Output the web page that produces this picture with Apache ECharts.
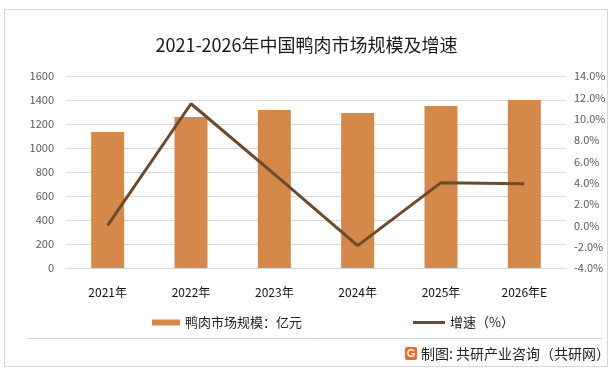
<!DOCTYPE html>
<html><head><meta charset="utf-8">
<script src="https://cdn.jsdelivr.net/npm/echarts@6/dist/echarts.min.js"></script>
<style>html,body{margin:0;padding:0;background:#fff}#c{width:613px;height:372px}</style>
</head><body><div id="c"></div>
<script>
var categories = ['2021年','2022年','2023年','2024年','2025年','2026年E'];
var marketSize = [1133, 1258, 1317, 1292, 1350, 1400];
var growthRate = [0.0, 11.4, 4.8, -1.9, 4.0, 3.9];
var leftTicks = [0, 1600, 200];
var rightTicks = [-4, 14, 2];
var F = '"Noto Sans CJK SC","Microsoft YaHei",sans-serif';
var chart = echarts.init(document.getElementById('c'), null, {renderer:'canvas'});
chart.setOption({
  animation:false,
  backgroundColor:'#fff',
  title:{text:'2021-2026年中国鸭肉市场规模及增速',left:'center',top:31,
    textStyle:{fontFamily:F,fontSize:18,fontWeight:'normal',color:'#1a1a1a'}},
  grid:{left:66,right:47,top:76,bottom:104},
  legend:[
    {top:311,left:147,itemWidth:28,itemHeight:6,itemGap:4,
     textStyle:{fontFamily:F,fontSize:13,color:'#222'},
     data:[{name:'鸭肉市场规模：亿元',icon:'rect'}]},
    {top:311,left:408,itemWidth:32,itemHeight:3,
     textStyle:{fontFamily:F,fontSize:13,color:'#222'},
     data:[{name:'增速（%）',icon:'rect'}]}
  ],
  xAxis:{type:'category',data:categories,
    axisLine:{lineStyle:{color:'#d9d9d9'}},axisTick:{show:false},
    axisLabel:{fontFamily:F,fontSize:12,color:'#111',margin:18}},
  yAxis:[
    {type:'value',min:leftTicks[0],max:leftTicks[1],interval:leftTicks[2],
     axisLine:{show:false},axisTick:{show:false},
     splitLine:{lineStyle:{color:'#d9d9d9'}},
     axisLabel:{fontFamily:F,fontSize:11,color:'#595959',margin:12,
       formatter:function(v){return String(v);}}},
    {type:'value',min:rightTicks[0],max:rightTicks[1],interval:rightTicks[2],
     axisLine:{show:false},axisTick:{show:false},splitLine:{show:false},
     axisLabel:{fontFamily:F,fontSize:11,color:'#595959',margin:8,
       formatter:function(v){return v.toFixed(1)+'%';}}}
  ],
  series:[
    {name:'鸭肉市场规模：亿元',type:'bar',data:marketSize,barWidth:33,
     itemStyle:{color:'#D4894B'}},
    {name:'增速（%）',type:'line',yAxisIndex:1,data:growthRate,symbol:'none',
     lineStyle:{color:'#6B4A2E',width:3},itemStyle:{color:'#6B4A2E'}}
  ],
  graphic:[
    {type:'rect',shape:{x:4.5,y:9.5,width:603,height:357},style:{fill:null,stroke:'#d9d9d9',lineWidth:1},silent:true},
    {type:'line',shape:{x1:27,y1:338.5,x2:602,y2:338.5},style:{stroke:'#d9d9d9',lineWidth:1},silent:true},
    {type:'rect',shape:{x:405,y:347,width:12,height:13,r:2},style:{fill:'#F26A21'}},
    {type:'text',style:{x:411,y:353.5,text:'G',fill:'#fff',font:'bold 11px sans-serif',align:'center',verticalAlign:'middle'}},
    {type:'text',style:{x:421,y:354,text:'制图: 共研产业咨询（共研网）',fill:'#222',font:'14px '+F,verticalAlign:'middle'}}
  ]
});
</script></body></html>
